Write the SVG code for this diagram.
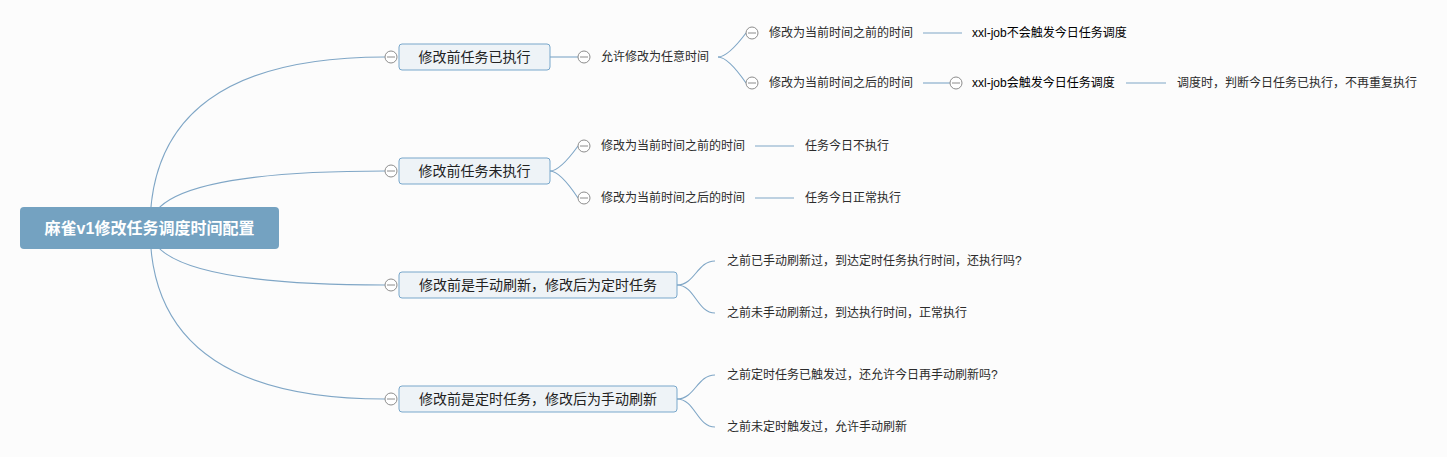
<svg xmlns="http://www.w3.org/2000/svg" xmlns:xlink="http://www.w3.org/1999/xlink" width="1447" height="457" viewBox="0 0 1447 457">
<style>
text{font-family:"Liberation Sans","Noto Sans CJK SC",sans-serif;dominant-baseline:central;fill:#2b2b2b;font-size:12px}
.con{fill:none;stroke:#7fa6c6;stroke-width:1.1}
.root rect{fill:#74a2c1}
.root text{fill:#ffffff;font-size:16px;font-weight:bold;text-anchor:middle}
.main rect{fill:#eef3f7;stroke:#78a7cb;stroke-width:1}
.main text{font-size:14px;text-anchor:middle;fill:#222}
.dark{fill:#000;font-weight:normal}
.col circle{fill:#ffffff;stroke:#8c8c8c;stroke-width:1}
.col line{stroke:#8c8c8c;stroke-width:1}
</style>
<defs>
<g id="minus" class="col"><circle cx="0" cy="0" r="6"/><line x1="-4" y1="0" x2="4" y2="0"/></g>
</defs>
<rect x="0" y="0" width="1447" height="457" fill="#fcfcfc"/>
<g id="connectors">
<path class="con" d="M150,228 Q150,57 385,57"/>
<path class="con" d="M150,228 Q150,171 385,171"/>
<path class="con" d="M150,228 Q150,285 385,285"/>
<path class="con" d="M150,228 Q150,399 385,399"/>
<path class="con" d="M550,57 L578,57"/>
<path class="con" d="M718,57 Q728,57 746,33"/>
<path class="con" d="M718,57 Q728,57 746,83"/>
<path class="con" d="M923,33 L962,33"/>
<path class="con" d="M923,83 L950,83"/>
<path class="con" d="M1126,83 L1166,83"/>
<path class="con" d="M550,171 Q560,171 578,146"/>
<path class="con" d="M550,171 Q560,171 578,198"/>
<path class="con" d="M755,146 L794,146"/>
<path class="con" d="M755,198 L794,198"/>
<path class="con" d="M677,285 C695,285 697,261 715,261"/>
<path class="con" d="M677,285 C695,285 697,313 715,313"/>
<path class="con" d="M677,399 C695,399 697,375 715,375"/>
<path class="con" d="M677,399 C695,399 697,427 715,427"/>
</g>
<g id="root" class="root">
<rect x="20" y="207" width="259" height="42" rx="4"/>
<text x="149.5" y="228">麻雀v1修改任务调度时间配置</text>
</g>
<g id="n1" class="main">
<use xlink:href="#minus" x="391" y="57"/>
<rect x="399" y="44" width="151" height="26" rx="3"/>
<text x="474.5" y="57">修改前任务已执行</text>
</g>
<g id="n1a"><use xlink:href="#minus" x="584" y="57"/><text x="601" y="57">允许修改为任意时间</text></g>
<g id="n1a1"><use xlink:href="#minus" x="752" y="33"/><text x="769" y="33">修改为当前时间之前的时间</text></g>
<g id="n1a1a"><text class="dark" x="972" y="33">xxl-job不会触发今日任务调度</text></g>
<g id="n1a2"><use xlink:href="#minus" x="752" y="83"/><text x="769" y="83">修改为当前时间之后的时间</text></g>
<g id="n1a2a"><use xlink:href="#minus" x="956" y="83"/><text class="dark" x="972" y="83">xxl-job会触发今日任务调度</text></g>
<g id="n1a2a1"><text x="1177" y="83">调度时，判断今日任务已执行，不再重复执行</text></g>
<g id="n2" class="main">
<use xlink:href="#minus" x="391" y="171"/>
<rect x="399" y="158" width="151" height="26" rx="3"/>
<text x="474.5" y="171">修改前任务未执行</text>
</g>
<g id="n2a"><use xlink:href="#minus" x="584" y="146"/><text x="601" y="146">修改为当前时间之前的时间</text></g>
<g id="n2a1"><text x="805" y="146">任务今日不执行</text></g>
<g id="n2b"><use xlink:href="#minus" x="584" y="198"/><text x="601" y="198">修改为当前时间之后的时间</text></g>
<g id="n2b1"><text x="805" y="198">任务今日正常执行</text></g>
<g id="n3" class="main">
<use xlink:href="#minus" x="391" y="285"/>
<rect x="399" y="272" width="278" height="26" rx="3"/>
<text x="538" y="285">修改前是手动刷新，修改后为定时任务</text>
</g>
<g id="n3a"><text x="727" y="261">之前已手动刷新过，到达定时任务执行时间，还执行吗?</text></g>
<g id="n3b"><text x="727" y="313">之前未手动刷新过，到达执行时间，正常执行</text></g>
<g id="n4" class="main">
<use xlink:href="#minus" x="391" y="399"/>
<rect x="399" y="386" width="278" height="26" rx="3"/>
<text x="538" y="399">修改前是定时任务，修改后为手动刷新</text>
</g>
<g id="n4a"><text x="727" y="375">之前定时任务已触发过，还允许今日再手动刷新吗?</text></g>
<g id="n4b"><text x="727" y="427">之前未定时触发过，允许手动刷新</text></g>
</svg>
